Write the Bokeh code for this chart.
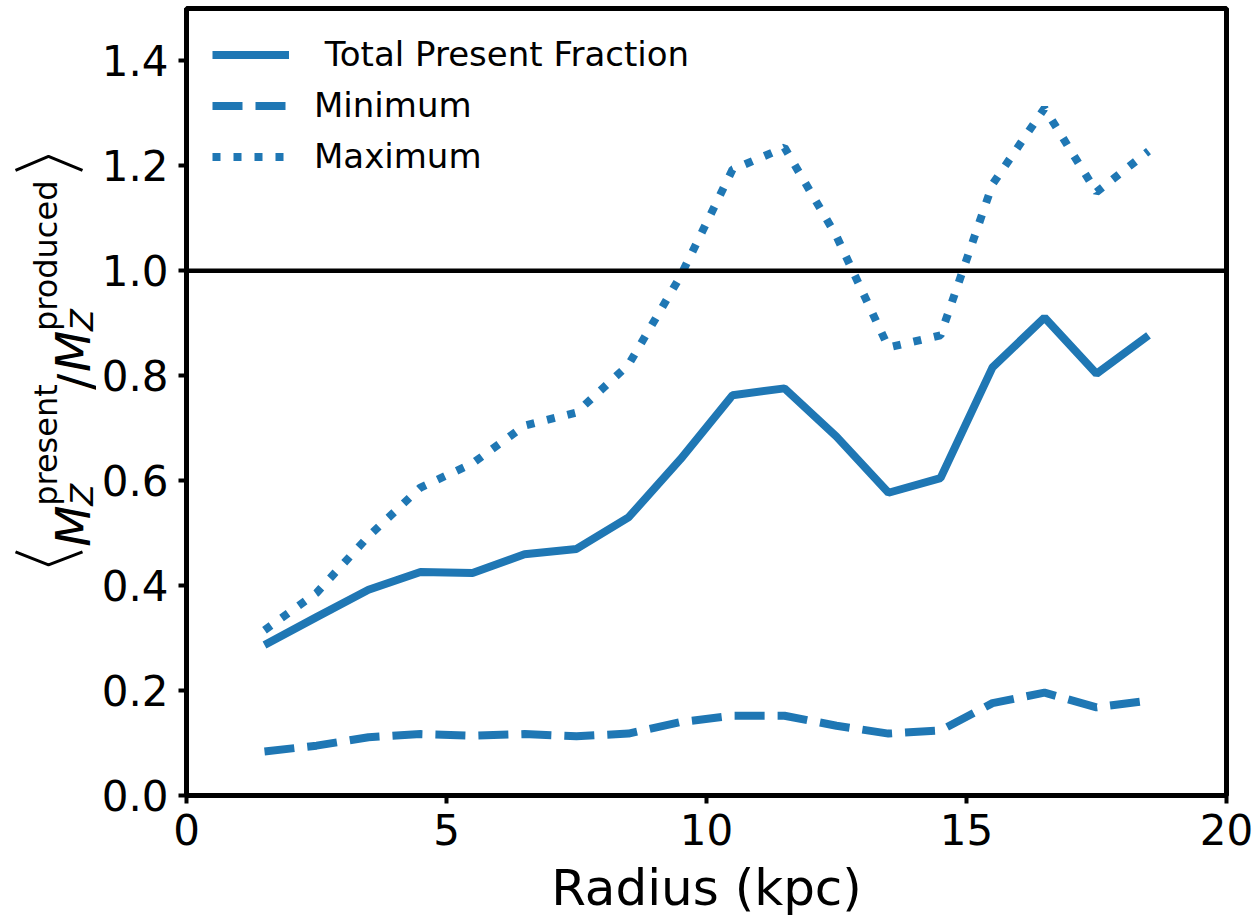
import math
from bokeh.plotting import figure
from bokeh.layouts import row
from bokeh.models import (Range1d, FixedTicker, PrintfTickFormatter, Span,
                          Legend, LegendItem)
from bokeh.core.properties import value
from bokeh.embed import file_html
from bokeh.resources import INLINE

# ---------------- data ----------------
radius = [1.5, 2.5, 3.5, 4.5, 5.5, 6.5, 7.5, 8.5, 9.5,
          10.5, 11.5, 12.5, 13.5, 14.5, 15.5, 16.5, 17.5, 18.5]
total_fraction = [0.287, 0.340, 0.392, 0.426, 0.424, 0.460, 0.470, 0.530, 0.641,
                  0.763, 0.776, 0.684, 0.577, 0.605, 0.816, 0.911, 0.804, 0.877]
minimum = [0.084, 0.095, 0.111, 0.117, 0.114, 0.117, 0.113, 0.118, 0.140,
           0.152, 0.152, 0.133, 0.118, 0.124, 0.176, 0.196, 0.168, 0.181]
maximum = [0.315, 0.386, 0.494, 0.587, 0.633, 0.705, 0.730, 0.821, 0.990,
           1.193, 1.235, 1.066, 0.854, 0.877, 1.165, 1.310, 1.150, 1.228]

x_ticks = [0, 5, 10, 15, 20]
y_ticks = [0.0, 0.2, 0.4, 0.6, 0.8, 1.0, 1.2, 1.4]
reference_level = 1.0

labels = [" Total Present Fraction", "Minimum", "Maximum"]
x_label = "Radius (kpc)"

# ---------------- layout ----------------
W, H = 1255, 919
LW = 96                               # width of the y-label strip
FL, FR, FT, FB = 186, 1226, 8, 796    # frame edges in page px
XMIN, XMAX, YMIN, YMAX = 0, 20, 0, 1.5
COLOR = "#1f77b4"
FONT = "DejaVu Sans"

p = figure(width=W - LW, height=H, output_backend="svg", toolbar_location=None,
           x_range=Range1d(XMIN, XMAX), y_range=Range1d(YMIN, YMAX),
           min_border_left=FL - LW, min_border_right=W - FR,
           min_border_top=FT, min_border_bottom=H - FB)
p.background_fill_color = "white"
p.border_fill_color = "white"
p.outline_line_color = "black"
p.outline_line_width = 5
p.xgrid.visible = False
p.ygrid.visible = False

for ax in (p.xaxis[0], p.yaxis[0]):
    ax.axis_line_color = "black"
    ax.axis_line_width = 5
    ax.major_tick_line_color = "black"
    ax.major_tick_line_width = 4
    ax.major_tick_out = 8
    ax.major_tick_in = 0
    ax.minor_tick_line_color = None
    ax.major_label_text_font = FONT
    ax.major_label_text_font_size = "42px"
    ax.major_label_text_color = "black"

p.xaxis.ticker = FixedTicker(ticks=x_ticks)
p.xaxis.formatter = PrintfTickFormatter(format="%d")
p.xaxis.major_label_standoff = 10
p.xaxis.axis_label = x_label
p.xaxis.axis_label_text_font = FONT
p.xaxis.axis_label_text_font_size = "50px"
p.xaxis.axis_label_text_font_style = "normal"
p.xaxis.axis_label_text_color = "black"
p.xaxis.axis_label_standoff = 11

p.yaxis.ticker = FixedTicker(ticks=y_ticks)
p.yaxis.formatter = PrintfTickFormatter(format="%.1f")
p.yaxis.major_label_standoff = 10

p.add_layout(Span(location=reference_level, dimension="width",
                  line_color="black", line_width=4.5))

r_tot = p.line(radius, total_fraction, line_color=COLOR, line_width=8)
r_min = p.line(radius, minimum, line_color=COLOR, line_width=8, line_dash="30 13")
r_max = p.line(radius, maximum, line_color=COLOR, line_width=8, line_dash="8 13")

legend = Legend(items=[LegendItem(label=labels[0], renderers=[r_tot]),
                       LegendItem(label=labels[1], renderers=[r_min]),
                       LegendItem(label=labels[2], renderers=[r_max])],
                location="top_left", margin=26, padding=0, spacing=11,
                glyph_width=77, glyph_height=37, label_height=37,
                label_standoff=25, label_text_font=FONT,
                label_text_font_size="34px", label_text_color="black",
                border_line_alpha=0, background_fill_alpha=0)
p.add_layout(legend)

# ---------------- y-axis label strip (rotated pieces, page px coords) ----------------
lab = figure(width=LW, height=H, output_backend="svg", toolbar_location=None,
             x_range=Range1d(0, LW), y_range=Range1d(FB, FT),
             min_border_left=0, min_border_right=0,
             min_border_top=FT, min_border_bottom=H - FB,
             x_axis_location=None, y_axis_location=None)
lab.outline_line_color = None
lab.xgrid.visible = False
lab.ygrid.visible = False
lab.background_fill_color = "white"
lab.border_fill_color = "white"

MAIN = "48px"
SUB = "32px"
pieces = [
    # text, baseline x px, start y px (bottom), size, style
    ("M", 72, 547, MAIN, "italic"),
    ("Z", 81, 506, SUB, "italic"),
    ("present", 45, 506, SUB, "normal"),
    ("/", 74, 390, MAIN, "normal"),
    ("M", 72, 372, MAIN, "italic"),
    ("Z", 81, 331, SUB, "italic"),
    ("produced", 45, 331, SUB, "normal"),
]
for txt, bx, sy, size, style in pieces:
    lab.text(x=[bx], y=[sy], text=[txt], angle=math.pi / 2,
             text_font=value(FONT), text_font_size=value(size),
             text_font_style=style, text_color="black",
             text_align="left", text_baseline="alphabetic")

# angle brackets drawn as strokes (rotated \langle and \rangle)
lab.line(x=[15, 48, 82], y=[552, 565, 552], line_color="black", line_width=3)
lab.line(x=[15, 48, 82], y=[170, 156, 170], line_color="black", line_width=3)

layout = row(lab, p, spacing=0)
open("out.html", "w").write(file_html(layout, INLINE))
